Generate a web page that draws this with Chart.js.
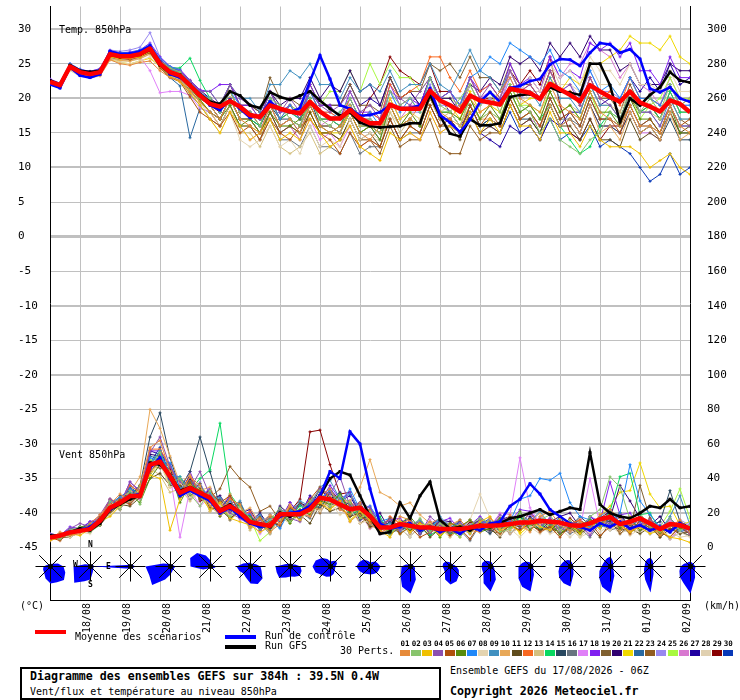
<!DOCTYPE html>
<html>
<head>
<meta charset="utf-8">
<script src="https://cdn.jsdelivr.net/npm/chart.js@4.4.1/dist/chart.umd.min.js"></script>
<style>
body { margin: 0; background: #fff; }
#wrap { position: relative; width: 740px; height: 700px; overflow: hidden; font-family: "DejaVu Sans Mono", monospace; font-size: 10px; color: #000; }
#chart { position: absolute; left: 0; top: 0; }
.t { position: absolute; white-space: pre; line-height: 1; }
.b { font-weight: bold; font-size: 11.6px; }
.bar { position: absolute; height: 4px; width: 31px; }
.box { position: absolute; left: 20px; top: 667px; width: 421px; height: 33px; border: 2px solid #000; box-sizing: border-box; }
.num { position: absolute; top: 640px; font-size: 7.5px; font-weight: bold; line-height: 1; }
.sw { position: absolute; top: 650px; width: 10px; height: 6px; }
.lbl { position: absolute; font-size: 8px; font-weight: bold; line-height: 1; }
</style>
</head>
<body>
<div id="wrap">
  <canvas id="chart" width="740" height="640"></canvas>
  <div class="t" style="left:59px;top:25px">Temp. 850hPa</div>
  <div class="t" style="left:59px;top:450px">Vent 850hPa</div>
  <div class="lbl" style="left:88px;top:541px">N</div>
  <div class="lbl" style="left:73px;top:561px">W</div>
  <div class="lbl" style="left:106px;top:563px">E</div>
  <div class="lbl" style="left:88px;top:581px">S</div>
  <div class="t" style="left:20px;top:601px">(°C)</div>
  <div class="t" style="left:704px;top:601px">(km/h)</div>
  <div class="bar" style="left:35px;top:630px;background:#ff0000"></div>
  <div class="t" style="left:75px;top:632px">Moyenne des scénarios</div>
  <div class="bar" style="left:225px;top:635px;background:#0000ff"></div>
  <div class="t" style="left:265px;top:631px">Run de contrôle</div>
  <div class="bar" style="left:225px;top:645px;background:#000"></div>
  <div class="t" style="left:265px;top:641px">Run GFS</div>
  <div class="t" style="left:340px;top:646px">30 Perts.</div>
  <div id="legend"></div>
  <div class="box"></div>
  <div class="t b" style="left:30px;top:671px">Diagramme des ensembles GEFS sur 384h : 39.5N 0.4W</div>
  <div class="t" style="left:30px;top:687px">Vent/flux et température au niveau 850hPa</div>
  <div class="t" style="left:450px;top:666px">Ensemble GEFS du 17/08/2026 - 06Z</div>
  <div class="t b" style="left:450px;top:686px">Copyright 2026 Meteociel.fr</div>
</div>
<script>
// forecast steps (hours from 17/08 06Z)
const steps = [0,6,12,18,24,30,36,42,48,54,60,66,72,78,84,90,96,102,108,114,120,126,132,138,144,150,156,162,168,174,180,186,192,198,204,210,216,222,228,234,240,246,252,258,264,270,276,282,288,294,300,306,312,318,324,330,336,342,348,354,360,366,372,378,384];
const dayTicks = [18,42,66,90,114,138,162,186,210,234,258,282,306,330,354,378];
const dayLabels = ['18/08','19/08','20/08','21/08','22/08','23/08','24/08','25/08','26/08','27/08','28/08','29/08','30/08','31/08','01/09','02/09'];
const tempTicks = [-45,-40,-35,-30,-25,-20,-15,-10,-5,0,5,10,15,20,25,30];
const windTicks = [0,20,40,60,80,100,120,140,160,180,200,220,240,260,280,300];

// temperature 850hPa (°C)
const tempMean = [22.4,21.9,24.6,23.8,23.5,23.8,26.4,26.1,26.1,26.4,27.2,25.0,23.8,23.3,21.9,20.4,19.2,18.8,19.6,18.8,17.6,17.3,19.0,18.5,18.1,17.8,19.5,18.1,17.1,17.1,18.3,17.1,16.4,16.4,19.1,18.5,18.5,18.5,21.1,19.7,19.0,18.1,20.4,19.7,19.4,19.1,21.4,21.1,20.8,19.9,22.1,21.3,20.5,19.6,21.9,21.0,20.2,19.5,21.0,19.4,18.8,18.1,19.7,19.2,18.0];
const tempCtrl = [22.0,21.5,24.5,23.3,23.0,23.5,26.8,26.4,26.5,26.8,27.6,25.3,23.5,23.0,22.0,20.5,19.0,18.3,19.8,18.5,17.2,17.5,19.5,18.4,18.0,18.6,22.5,26.2,22.8,19.0,18.5,17.5,17.6,18.0,19.0,18.6,18.6,19.0,21.4,17.6,16.5,15.1,16.9,19.5,20.9,19.5,21.5,21.8,22.5,22.8,24.9,25.7,25.6,24.7,26.6,28.0,27.8,26.6,27.1,25.7,21.4,20.9,21.6,20.0,19.5];
const tempGfs = [22.6,22.0,24.8,24.0,23.8,24.0,26.5,26.0,26.2,26.3,27.0,24.8,23.6,23.4,22.0,20.6,19.5,19.2,21.0,20.4,19.0,18.6,20.9,20.2,19.8,20.4,21.0,19.7,18.5,17.5,18.0,16.5,16.0,15.8,15.9,16.0,16.4,16.4,20.5,17.5,14.9,14.5,17.0,16.1,16.1,16.4,20.2,20.5,20.6,20.0,21.6,21.0,20.8,20.5,25.0,25.0,21.9,16.6,20.0,19.0,20.5,21.6,23.8,22.6,22.3];
const tempPerts = [
  [22.0,21.6,24.2,23.4,23.2,23.3,25.6,25.0,24.8,25.2,25.4,24.0,23.0,22.6,21.0,19.5,18,17,20,17,16,15,19,16,17,15,19,16,15,16,18,15,14,16,19,16,17,19,21,18,17,19,20,18,19,21,23,20,19,18,22,19,18,17,21,18,17,16,19,16,16,15,19,16,15],
  [22.6,22.1,24.9,24.0,23.6,24.0,26.6,26.4,26.3,26.6,27.4,25.4,24.4,23.8,22.0,20.1,20,18,21,18,18,16,20,19,17,16,20,17,16,18,20,17,17,16,21,19,20,18,23,19,18,20,22,19,21,18,22,19,18,15,17,14,13,12,14,15,18,17,21,18,20,18,22,19,20],
  [22.2,21.7,24.4,23.6,23.2,23.5,26.0,25.7,25.8,26.0,26.8,24.6,23.2,22.4,20.8,19.0,17,15,18,16,14,15,17,14,15,14,17,15,13,14,16,13,12,11,15,14,15,14,18,15,16,15,18,15,17,15,19,16,16,14,18,15,15,13,16,14,13,13,13,12,10,11,12,10,9],
  [22.5,22.0,24.8,24.0,23.7,24.1,26.7,26.5,26.4,26.8,27.6,25.6,24.4,23.9,22.6,21.0,21,19,22,20,19,17,21,18,20,18,21,19,18,19,21,18,19,17,21,20,19,21,23,20,21,18,23,20,22,20,24,21,22,20,24,21,22,19,23,20,19,17,21,18,18,16,19,16,16],
  [22.3,21.8,24.5,23.6,23.4,23.6,26.0,25.8,25.6,26.0,26.6,24.4,23.0,22.4,20.2,18.0,17,16,18,15,16,14,17,15,14,16,17,15,14,12,15,13,14,13,17,14,16,15,19,16,17,15,19,16,18,16,20,17,18,16,20,17,18,16,20,17,17,15,19,16,17,15,19,16,17],
  [22.4,22.0,24.7,23.9,23.6,23.9,26.3,26.0,26.0,26.3,27.0,24.8,23.5,23.0,21.5,19.8,18,17,19,16,17,15,18,16,16,17,19,16,15,16,18,15,16,14,19,16,18,16,21,18,18,17,20,17,19,17,21,18,19,17,21,18,19,17,21,18,18,16,20,17,17,15,19,15,15],
  [22.6,22.2,25.0,24.2,23.8,24.2,26.8,26.6,26.6,27.0,27.8,25.8,24.6,24.0,22.4,20.8,20,18,21,19,18,17,20,17,19,17,21,18,17,18,20,17,18,16,21,18,20,18,23,20,21,19,23,24,26,25,28,27,26,25,27,24,23,21,24,21,22,20,23,20,20,19,22,19,19],
  [22.0,21.5,24.0,23.2,23.0,23.2,25.5,25.2,25.0,25.4,26.0,24.6,23.4,23.0,21.4,19.6,17,15,18,14,13,14,16,13,14,12,16,13,14,13,17,14,15,14,19,16,18,17,21,18,19,18,22,19,21,20,24,21,23,21,25,23,24,22,26,24,24,22,25,22,22,21,24,21,21],
  [22.5,22.0,24.8,24.0,23.6,24.0,26.6,26.2,26.2,26.5,27.3,25.2,24.2,23.8,22.4,21.0,21,19,22,20,20,18,22,22,24,23,25,22,22,20,23,21,22,21,24,21,22,22,25,22,21,24,27,24,23,21,24,21,21,19,23,20,20,18,22,19,19,17,21,18,18,16,20,17,17],
  [22.1,21.7,24.3,23.5,23.2,23.4,25.8,25.5,25.4,25.8,26.4,24.8,23.6,23.0,21.6,20.0,19,17,20,17,17,15,19,16,17,16,19,16,16,15,19,16,16,15,19,16,17,16,20,17,17,16,19,17,17,16,20,17,18,16,19,16,17,15,19,15,16,14,18,15,16,14,18,14,15],
  [22.3,21.8,24.5,23.8,23.4,23.8,26.2,26.0,26.0,26.4,27.0,25.0,23.8,23.4,21.8,20.2,19,17,20,17,17,15,18,15,16,15,18,15,15,14,17,14,15,13,17,14,16,15,19,16,16,14,18,15,16,15,19,16,17,15,19,16,16,14,17,14,14,13,17,14,15,14,18,15,16],
  [22.4,22.0,24.6,23.8,23.6,23.9,26.5,26.2,26.2,26.5,27.2,25.2,24.0,23.6,22.2,20.6,20,18,21,18,18,17,20,17,19,17,21,18,18,17,20,17,18,17,22,20,21,22,26,26,23,21,24,21,22,20,24,21,22,20,24,21,21,19,23,20,21,19,23,20,20,19,22,19,20],
  [22.0,21.6,24.2,23.4,23.0,23.3,25.7,25.4,25.4,25.7,26.4,24.6,23.2,22.8,21.0,19.4,18,16,19,15,15,13,16,13,12,13,15,12,13,14,16,13,14,13,18,15,17,16,20,17,18,16,20,17,18,17,21,18,19,17,21,18,19,18,22,19,19,18,21,18,18,17,20,17,17],
  [22.5,22.1,24.8,24.0,23.7,24.0,26.5,26.2,26.1,26.4,27.1,25.2,24.4,24.4,25.8,22.6,20,18,20,17,17,16,20,17,18,17,20,17,17,16,19,16,16,15,19,16,17,16,21,18,18,16,20,17,18,17,21,18,19,17,19,16,14,12,13,16,18,17,21,18,19,17,21,18,18],
  [22.3,21.8,24.4,23.6,23.4,23.6,26.2,25.9,25.9,26.2,27.0,24.9,23.6,23.1,21.6,20.0,19,17,20,17,17,16,19,17,17,16,20,16,16,15,19,16,16,15,19,16,17,16,20,17,17,15,19,16,17,16,20,17,17,15,19,16,17,15,19,16,16,15,18,15,16,14,17,14,14],
  [22.2,21.8,24.5,23.6,23.3,23.7,26.2,26.0,25.9,26.2,26.9,24.8,23.2,22.6,20.6,19.0,17,16,19,16,16,14,17,14,14,13,16,13,13,12,15,12,13,13,17,14,15,15,19,16,17,15,19,16,17,16,20,17,18,16,20,17,17,16,20,17,17,16,19,16,16,15,18,15,15],
  [22.6,22.0,24.6,23.8,23.4,23.6,26.0,25.8,25.6,26.0,24.0,20.8,21.0,21.0,20.4,18.6,18,16,19,16,14,15,18,15,16,14,17,14,15,13,16,13,14,13,17,14,15,14,18,15,16,15,18,15,16,15,19,16,17,16,19,16,17,15,19,16,16,15,18,15,15,14,18,15,15],
  [22.8,22.2,25.0,24.2,23.9,24.3,26.9,26.6,26.7,27.0,28.0,26.0,24.6,24.2,22.6,21.2,21,22,22,19,19,17,21,18,19,17,22,19,19,17,21,18,18,17,22,19,20,19,23,20,21,19,23,21,22,20,25,22,23,21,26,23,24,23,28,27,28,26,28,24,24,22,26,23,23],
  [22.5,22.0,24.8,24.1,23.8,24.0,26.6,26.4,26.4,26.6,27.4,25.4,24.2,23.8,22.4,20.8,20,18,22,19,19,18,23,20,20,19,22,19,19,19,22,19,19,18,23,20,21,21,25,24,25,23,26,23,23,21,25,22,22,20,24,21,21,19,23,20,20,18,22,19,19,17,20,17,16],
  [22.6,22.0,24.8,24.0,23.8,24.2,26.8,26.6,26.5,26.9,27.6,25.6,24.4,24.0,22.6,21.2,20,19,22,19,19,18,21,19,20,20,23,20,22,21,24,21,22,19,23,20,21,19,23,20,20,18,22,21,23,22,26,25,26,24,28,26,28,26,29,27,27,24,25,22,22,22,25,24,24],
  [22.0,21.5,24.3,23.4,23.0,23.3,25.6,25.2,25.0,25.4,25.8,24.6,23.4,23.0,21.4,19.8,18,16,19,16,16,15,18,15,16,15,18,15,15,15,18,15,16,15,20,17,18,17,21,18,19,17,21,18,19,18,22,19,20,20,23,21,23,22,25,25,26,27,29,28,28,27,29,26,25],
  [22.2,21.7,24.4,23.6,23.2,23.6,26.1,25.9,25.8,26.1,26.8,24.6,23.0,21.8,14.3,18.6,18,17,20,17,17,15,19,16,17,16,19,16,16,15,18,15,16,14,19,16,17,16,20,17,17,15,19,16,17,16,20,17,18,16,20,17,18,16,20,17,17,16,19,16,17,15,19,16,16],
  [22.4,21.9,24.6,23.7,23.4,23.7,26.2,25.9,26.0,26.3,27.0,24.9,23.5,23.0,21.2,19.6,18,16,19,16,16,14,18,15,16,14,18,15,15,14,17,14,14,12,16,13,14,14,17,13,12,12,16,14,15,15,19,16,17,15,19,16,17,15,19,16,16,15,18,15,16,14,18,15,15],
  [22.7,22.2,25.0,24.2,23.9,24.3,27.0,26.8,27.0,27.4,29.5,26.0,24.6,24.0,22.4,20.8,20,18,21,18,18,17,20,18,18,17,21,18,18,17,20,17,17,16,20,17,18,18,22,19,19,18,22,19,20,19,23,20,21,20,24,21,22,20,24,21,21,20,23,20,20,19,22,19,19],
  [22.5,22.0,24.8,24.0,23.6,24.0,26.6,26.2,26.2,26.5,27.3,25.3,24.2,23.6,22.2,20.6,20,18,21,18,18,17,21,18,19,18,22,19,21,21,24,21,25,22,25,23,23,21,23,20,20,19,22,19,20,19,22,19,19,18,21,18,19,17,21,17,19,17,21,17,19,20,23,20,20],
  [22.3,21.9,24.6,23.8,23.5,23.9,26.4,26.1,26.0,26.4,27.1,24.6,23.4,23.0,21.6,20.0,19,17,20,17,17,16,19,16,17,16,19,16,17,16,20,17,17,16,20,17,19,19,23,20,21,19,23,20,21,19,24,21,23,21,26,23,25,25,28,27,26,23,25,22,21,19,23,20,20],
  [22.6,22.1,24.9,24.1,23.7,24.1,26.7,26.4,26.4,26.7,27.4,25.4,24.2,23.6,22.2,20.6,20,18,21,18,18,17,21,18,19,18,21,19,19,19,22,19,20,19,23,20,21,19,23,20,18,16,18,15,14,13,16,15,16,14,17,16,18,18,22,19,20,20,23,21,23,21,25,22,23],
  [22.2,21.7,24.4,23.5,23.3,23.5,26.0,25.7,25.6,25.9,26.6,24.6,23.4,23.0,21.6,20.0,19,17,20,17,17,16,19,16,16,15,18,15,15,14,17,14,14,14,18,16,17,16,20,17,18,17,21,18,19,18,22,19,21,21,25,22,22,21,25,22,22,20,23,20,20,18,21,18,18],
  [22.4,21.9,24.7,23.9,23.6,24.0,26.5,26.2,26.2,26.5,27.2,25.2,24.0,23.5,22.0,20.4,19,18,21,18,18,16,20,17,18,17,20,17,17,16,19,17,20,22,26,24,23,22,25,21,21,19,23,20,20,20,24,22,24,22,26,19,15,14,17,14,16,16,20,18,19,17,21,18,18],
  [22.1,21.6,24.3,23.5,23.1,23.4,25.9,25.6,25.6,25.9,26.7,24.7,23.4,22.8,21.2,19.6,18,17,20,17,17,15,19,16,17,15,19,16,16,15,18,15,16,15,19,16,17,16,20,17,17,15,19,16,16,15,18,15,16,14,17,14,15,14,16,13,14,13,12,10,8,9,12,9,10]
];

// wind 850hPa (km/h)
const windMean = [5.9,6.9,8.8,9.7,10.7,15.5,23.1,25.9,29.8,29.8,47.9,49.8,41.2,31.7,34.5,31.7,28.8,21.2,24.0,20.2,14.9,13.6,12.6,19.3,19.3,19.3,22.2,28.8,27.9,25.0,22.2,23.1,18.3,11.6,11.6,13.6,12.6,11.6,11.6,10.7,10.7,10.7,11.6,12.6,12.6,13.0,13.6,14.5,14.5,15.5,15.0,14.5,13.0,12.6,14.0,16.4,17.7,13.6,15.0,17.0,14.0,10.7,13.6,13.0,11.0];
const windCtrl = [6,7,9,10,12,16,22,26,30,31,46,52,40,30,33,30,27,20,23,18,14,12,13,18,20,21,24,30,44,40,67,60,34,14,11,12,14,10,12,9,11,8,12,10,14,15,24,28,37,31,22,18,14,12,10,14,12,15,11,13,10,12,9,14,11];
const windGfs = [7,7,9,11,10,14,22,25,28,30,49,48,42,33,35,32,28,22,25,20,15,14,12,20,18,20,22,30,40,44,42,30,18,8,9,26,17,30,38,16,11,12,10,13,12,14,17,18,20,22,19,21,23,22,55,25,20,18,17,20,24,23,28,23,24];
const windPerts = [
  [5,9,7,8,14,19,25,31,27,36,58,62,44,30,41,36,24,19,28,25,12,17,9,14,24,20,18,30,34,22,19,26,14,9,11,18,16,10,15,8,13,16,10,9,17,12,19,14,9,18,21,13,10,15,11,19,22,17,10,12,15,7,12,16,9],
  [7,5,10,12,9,13,27,22,33,25,46,55,37,40,31,24,33,22,18,24,17,11,16,23,15,21,27,33,24,30,26,17,21,14,8,13,11,17,9,14,10,6,13,17,14,9,11,20,13,16,19,10,15,11,18,22,41,35,16,20,12,9,17,10,13],
  [4,6,8,7,11,15,18,24,28,33,42,40,10,28,36,30,22,26,17,15,13,9,12,18,20,16,24,26,22,27,15,21,16,10,6,15,9,14,12,7,11,13,8,15,18,10,13,9,16,12,10,17,14,8,15,11,19,13,9,12,8,10,6,5,3],
  [8,7,11,14,12,19,28,25,38,33,55,64,47,38,34,44,30,23,20,17,13,16,11,22,17,15,26,34,31,41,24,26,23,13,16,10,15,8,18,13,9,14,11,16,12,19,15,13,20,12,17,9,15,13,7,16,14,19,11,13,16,12,9,13,8],
  [6,4,9,11,10,18,21,28,25,31,44,50,43,33,38,29,33,26,30,21,17,12,15,13,23,19,28,35,29,23,25,18,15,11,17,8,12,6,9,13,7,11,5,14,12,8,13,10,14,9,12,6,13,10,15,7,12,14,8,16,11,9,6,12,8],
  [5,8,7,12,13,14,22,27,31,26,40,48,44,26,37,33,27,18,24,20,18,13,10,21,14,22,19,27,25,31,20,24,17,15,9,14,18,11,13,6,14,12,16,9,11,17,12,21,10,16,14,8,12,9,16,13,20,11,17,10,13,8,14,11,12],
  [8,7,11,10,14,16,26,29,34,31,52,50,49,34,38,31,32,21,27,19,19,12,16,11,22,18,25,28,33,25,34,22,24,15,17,11,14,9,12,16,10,13,8,15,14,16,15,28,30,40,39,43,26,18,16,12,13,20,48,27,19,12,13,10,11],
  [5,7,6,9,8,15,19,24,27,31,44,49,35,38,29,31,25,24,19,22,12,15,10,13,19,15,23,21,26,19,22,14,16,8,12,11,6,13,14,9,12,8,16,31,17,7,11,6,12,13,8,10,14,6,9,13,10,14,7,11,8,12,5,9,6],
  [6,5,10,9,13,14,24,26,32,30,48,56,42,41,33,36,28,29,23,27,14,19,12,22,20,27,24,35,39,28,31,21,20,12,14,9,13,16,10,18,12,14,9,13,16,10,14,20,15,21,13,16,10,14,12,18,22,14,16,12,14,10,18,30,13],
  [5,8,8,11,11,19,23,29,32,41,80,69,53,37,42,33,35,23,31,20,23,14,19,16,25,18,24,22,29,24,27,35,51,32,29,24,26,19,14,17,10,14,9,16,12,17,10,14,15,20,12,16,9,13,10,15,17,10,18,13,14,8,13,11,13],
  [5,6,6,9,11,13,20,25,24,29,40,43,36,36,30,34,23,22,17,21,12,17,10,19,16,19,14,25,21,23,18,20,12,14,8,12,10,13,6,11,9,8,12,10,11,6,14,12,16,10,12,8,11,8,12,6,14,10,11,8,12,6,11,8,9],
  [7,7,11,10,13,17,28,26,36,32,57,57,47,33,41,31,31,22,28,18,21,12,18,14,24,19,28,25,33,27,27,20,22,10,18,14,16,10,13,7,14,12,16,10,13,8,16,14,20,14,16,10,14,16,10,13,18,10,14,12,16,8,13,10,13],
  [5,5,8,11,10,17,19,27,28,34,46,42,32,34,27,34,21,25,18,23,10,16,8,18,14,22,20,27,24,25,16,19,12,14,10,16,8,16,10,13,6,11,8,14,11,14,8,12,10,16,11,8,11,6,13,16,11,14,8,13,9,11,6,14,8],
  [6,6,10,9,13,14,21,27,28,36,48,56,40,41,33,40,45,72,31,23,16,11,18,16,18,24,21,30,27,31,19,22,15,18,8,14,10,12,7,11,8,10,10,14,11,16,10,18,13,11,16,10,14,8,16,13,21,41,43,19,20,10,14,12,10],
  [6,7,8,11,11,18,23,30,30,36,64,78,52,34,44,64,44,24,28,18,18,11,16,12,22,16,26,22,32,24,26,16,19,11,15,13,15,8,13,16,11,16,10,12,8,14,12,18,13,16,10,15,12,18,13,16,15,20,11,18,13,15,33,15,11],
  [5,6,7,10,9,17,19,26,26,32,43,52,37,39,28,33,24,27,16,24,12,14,8,19,15,20,17,28,23,28,18,22,13,14,8,11,6,13,10,14,8,10,4,13,9,13,8,14,11,14,9,12,8,11,6,14,10,12,8,16,9,10,5,9,7],
  [7,6,10,9,12,15,25,22,33,28,49,47,42,6,34,24,29,18,26,16,16,8,15,12,21,16,25,22,30,22,22,16,17,8,13,10,15,10,16,8,11,14,10,16,12,20,19,52,23,14,16,10,13,11,40,13,19,12,15,10,13,9,16,11,14],
  [7,7,12,11,15,17,28,25,38,32,56,56,48,34,44,30,34,22,30,20,20,10,17,16,26,20,29,26,36,28,32,20,24,12,16,17,11,16,8,15,17,10,13,18,13,17,15,22,21,14,17,12,15,10,18,15,38,19,20,12,15,10,16,11,11],
  [5,8,8,11,11,18,23,28,26,36,45,54,39,40,31,37,24,28,20,26,13,18,10,22,17,26,21,30,24,28,18,22,14,16,10,15,8,15,10,16,13,8,16,12,15,10,18,13,17,12,15,8,13,16,12,18,13,20,10,36,17,10,13,8,10],
  [6,7,9,12,11,18,23,29,34,31,54,53,46,30,40,34,28,30,22,26,15,20,12,24,19,26,23,34,28,32,21,26,16,20,10,16,13,15,8,16,15,10,13,16,10,16,18,14,17,10,15,18,20,12,16,13,17,36,27,17,13,18,10,15,12],
  [5,6,7,11,10,16,19,26,26,32,42,50,35,36,29,34,21,26,16,21,11,17,10,19,15,22,19,28,23,26,16,21,12,15,8,13,10,14,8,13,11,6,13,11,15,10,16,8,13,16,11,15,10,13,11,19,24,32,33,49,31,23,24,13,15],
  [7,6,10,10,13,15,27,24,35,31,53,51,45,32,40,29,32,20,28,18,18,10,16,13,23,17,27,23,32,24,27,18,21,10,15,10,13,8,15,10,12,8,13,15,11,15,13,18,10,15,16,11,13,10,16,12,18,10,15,11,16,8,13,9,11],
  [6,5,9,9,13,13,25,22,31,28,48,46,44,29,38,28,29,34,47,40,35,21,24,16,21,16,26,20,29,22,24,14,18,10,13,8,15,9,12,15,8,13,9,16,10,8,13,10,15,10,13,8,12,8,15,11,16,8,13,10,13,6,11,9,7],
  [5,8,8,11,11,18,21,29,29,35,47,56,39,38,33,38,25,28,21,26,13,19,11,23,17,26,21,31,25,29,19,25,14,17,8,15,10,15,8,14,15,10,16,11,16,10,15,19,12,18,15,10,13,16,11,18,15,18,11,17,12,15,10,16,13],
  [7,6,10,10,13,14,24,22,33,28,51,48,43,30,38,28,31,20,27,18,17,4,9,21,22,18,27,23,31,22,25,17,17,10,13,8,12,10,15,6,12,8,13,10,15,11,13,17,10,15,12,8,16,10,15,13,18,11,15,10,16,12,21,34,17],
  [4,6,7,10,9,16,19,27,25,32,43,51,35,36,28,33,21,26,16,22,11,17,9,20,15,22,18,28,23,26,15,20,11,15,9,16,8,15,8,13,9,12,8,14,9,15,8,12,11,15,9,16,9,12,8,16,11,14,9,14,9,12,5,11,8],
  [8,7,11,10,15,15,28,25,36,32,56,54,48,32,42,28,34,22,30,20,22,12,19,15,26,19,30,25,34,27,30,19,22,12,17,10,15,10,13,17,11,15,9,17,12,10,17,11,18,13,15,10,13,11,18,13,22,11,17,10,15,9,17,11,12],
  [5,7,7,9,9,15,21,26,25,32,42,48,36,38,27,32,23,26,17,22,11,16,8,19,15,22,17,26,21,25,15,21,11,13,6,15,9,13,7,11,6,11,9,15,9,13,11,14,12,8,13,11,6,11,15,9,13,8,11,9,13,7,9,6,7],
  [6,5,10,9,13,13,26,22,34,29,50,49,45,29,40,27,29,20,27,17,19,10,15,13,21,28,67,68,48,31,32,19,21,11,15,10,13,8,15,11,12,9,15,11,13,17,11,19,13,10,15,11,17,12,11,17,21,11,15,10,17,9,13,11,13],
  [6,8,8,12,11,17,23,28,29,36,49,58,41,40,33,37,27,28,21,25,13,19,10,23,17,25,21,32,26,30,21,26,14,15,8,14,17,8,13,10,13,8,15,13,17,10,18,15,11,17,10,18,9,15,11,17,12,18,10,15,8,13,9,15,9]
];

// daily wind direction roses: N, NNE, NE, ENE, E, ESE, SE, SSE, S, SSW, SW, WSW, W, WNW, NW, NNW
const roseHours = [0,24,48,72,96,120,144,168,192,216,240,264,288,312,336,360,384];
const roseDirs = [
  [2,3,4,8,13,16,19,17,17,13,9,8,7,4,3,2],
  [2,2,2,3,4,3,4,6,13,16,23,18,17,6,3,2],
  [2,2,2,3,5,3,2,2,2,2,3,5,36,4,3,2],
  [2,2,3,3,5,4,4,5,8,14,26,23,25,8,4,3],
  [6,3,2,3,6,4,3,2,2,2,3,8,20,22,19,12],
  [4,3,4,6,10,12,17,19,17,12,10,12,14,8,5,4],
  [3,3,3,5,10,12,13,11,10,12,16,15,15,6,4,3],
  [5,6,8,7,5,5,6,8,10,11,12,16,18,16,12,8],
  [4,5,7,8,10,9,9,8,8,8,10,12,14,12,10,6],
  [2,3,3,3,4,5,6,14,27,22,14,10,9,5,3,2],
  [4,3,3,4,6,9,12,16,18,14,8,7,8,8,7,5],
  [5,4,3,3,3,4,6,14,25,18,10,9,9,9,8,6],
  [4,3,3,3,3,3,4,9,25,22,17,13,12,9,7,5],
  [6,4,3,3,3,3,4,8,20,18,16,13,11,9,8,7],
  [10,6,4,3,3,3,4,10,27,22,16,12,9,8,8,9],
  [9,6,4,3,3,3,4,8,26,14,9,7,6,6,7,8],
  [5,4,4,4,5,5,6,12,27,18,15,12,10,7,5,5]
];

const pertColors = ['#e68a3a','#88c46c','#f0c000','#8c50b0','#b0500c','#588c0c','#2088f8','#e4d4b0','#4090c0','#e8a858',
  '#604c1c','#f86820','#d4c080','#08d860','#284860','#687480','#e080f8','#8020f0','#806030','#300070',
  '#f0d800','#2868a0','#905c20','#9888f0','#a8f840','#d878d0','#2000a0','#e0d0b0','#880000','#0838b8'];

// legend swatches
const legend = document.getElementById('legend');
pertColors.forEach((c, i) => {
  const left = 400 + i * 11.15;
  legend.insertAdjacentHTML('beforeend',
    '<div class="num" style="left:' + (left + 0.5) + 'px">' + String(i + 1).padStart(2, '0') + '</div>' +
    '<div class="sw" style="left:' + left + 'px;background:' + c + '"></div>');
});

const pts = vals => vals.map((v, i) => ({ x: steps[i], y: v }));

const datasets = [
  { data: pts(tempMean), yAxisID: 'y', borderColor: '#ff0000', borderWidth: 4.5, pointRadius: 0, order: 0, borderJoinStyle: 'round' },
  { data: pts(windMean), yAxisID: 'y2', borderColor: '#ff0000', borderWidth: 4.5, pointRadius: 0, order: 0, borderJoinStyle: 'round' },
  { data: pts(tempCtrl), yAxisID: 'y', borderColor: '#0000ff', borderWidth: 2.5, pointRadius: 1.5, pointStyle: 'cross', pointBorderColor: '#0000ff', order: 1 },
  { data: pts(windCtrl), yAxisID: 'y2', borderColor: '#0000ff', borderWidth: 2.5, pointRadius: 1.5, pointStyle: 'cross', pointBorderColor: '#0000ff', order: 1 },
  { data: pts(tempGfs), yAxisID: 'y', borderColor: '#000000', borderWidth: 2.5, pointRadius: 1.5, pointStyle: 'cross', pointBorderColor: '#000', order: 2 },
  { data: pts(windGfs), yAxisID: 'y2', borderColor: '#000000', borderWidth: 2.5, pointRadius: 1.5, pointStyle: 'cross', pointBorderColor: '#000', order: 2 }
];
tempPerts.forEach((p, i) => {
  datasets.push({ data: pts(p), yAxisID: 'y', borderColor: pertColors[i], borderWidth: 1, pointRadius: 1.5, pointStyle: 'cross', pointBorderColor: pertColors[i], pointBorderWidth: 1, order: 3 });
});
windPerts.forEach((p, i) => {
  datasets.push({ data: pts(p), yAxisID: 'y2', borderColor: pertColors[i], borderWidth: 1, pointRadius: 1.5, pointStyle: 'cross', pointBorderColor: pertColors[i], pointBorderWidth: 1, order: 3 });
});

// wind roses drawn in the band under the wind panel
const roseLevel = -47.6;
const roses = {
  id: 'roses',
  afterDatasetsDraw(chart) {
    const { ctx, scales: { x, y } } = chart;
    const cy = Math.round(y.getPixelForValue(roseLevel)) + 0.5;
    ctx.save();
    roseHours.forEach((h, k) => {
      const cx = Math.round(x.getPixelForValue(h)) + 0.5;
      ctx.beginPath();
      roseDirs[k].forEach((r, j) => {
        const a = j * Math.PI / 8;
        const px = cx + r * Math.sin(a), py = cy - r * Math.cos(a);
        if (j === 0) ctx.moveTo(px, py); else ctx.lineTo(px, py);
      });
      ctx.closePath();
      ctx.fillStyle = '#0000ff';
      ctx.fill();
      ctx.beginPath();
      for (let j = 0; j < 4; j++) {
        const a = j * Math.PI / 4, len = j % 2 ? 16 : 15;
        ctx.moveTo(cx - len * Math.sin(a), cy + len * Math.cos(a));
        ctx.lineTo(cx + len * Math.sin(a), cy - len * Math.cos(a));
      }
      ctx.strokeStyle = '#000';
      ctx.lineWidth = 1;
      ctx.stroke();
      ctx.beginPath();
      ctx.arc(cx, cy, 2.5, 0, Math.PI * 2);
      ctx.fillStyle = '#000';
      ctx.fill();
    });
    ctx.restore();
  }
};

const yMin = -52.58, yMax = 33.29;
const font = { family: 'DejaVu Sans Mono', size: 11 };

new Chart(document.getElementById('chart'), {
  type: 'line',
  data: { datasets },
  options: {
    responsive: false,
    animation: false,
    devicePixelRatio: 1,
    layout: { padding: { left: 18, right: 0, top: 0, bottom: 0 } },
    plugins: { legend: { display: false }, tooltip: { enabled: false } },
    elements: { line: { tension: 0 } },
    scales: {
      x: {
        type: 'linear', min: 0, max: 384,
        afterBuildTicks: s => { s.ticks = dayTicks.map(v => ({ value: v })); },
        afterFit: s => { s.height = 40; s.paddingLeft = 0; s.paddingRight = 0; },
        grid: { color: '#c0c0c0', drawTicks: false },
        border: { color: '#000', width: 1 },
        ticks: { autoSkip: false, minRotation: 90, maxRotation: 90, padding: 3, labelOffset: 7, color: '#000',
                 font: { family: 'DejaVu Sans Mono', size: 10 }, callback: (v, i) => dayLabels[i] }
      },
      y: {
        position: 'left', min: yMin, max: yMax,
        afterBuildTicks: s => { s.ticks = tempTicks.map(v => ({ value: v })); },
        afterFit: s => { s.width = 32; s.paddingTop = 0; s.paddingBottom = 0; },
        grid: { color: '#c0c0c0', drawTicks: false,
                lineWidth: c => (c.tick && c.tick.value === 0) ? 3 : (c.tick && c.tick.value % 10 === 0 ? 2 : 1) },
        border: { color: '#000', width: 1 },
        ticks: { crossAlign: 'far', color: '#000', font, callback: v => v }
      },
      y2: {
        position: 'right', min: (yMin + 45) * 4, max: (yMax + 45) * 4,
        afterBuildTicks: s => { s.ticks = windTicks.map(v => ({ value: v })); },
        afterFit: s => { s.width = 50; s.paddingTop = 0; s.paddingBottom = 0; },
        grid: { drawOnChartArea: false, drawTicks: false },
        border: { color: '#000', width: 1 },
        ticks: { padding: 17, color: '#000', font, callback: v => v }
      }
    }
  },
  plugins: [roses]
});
</script>
</body>
</html>
